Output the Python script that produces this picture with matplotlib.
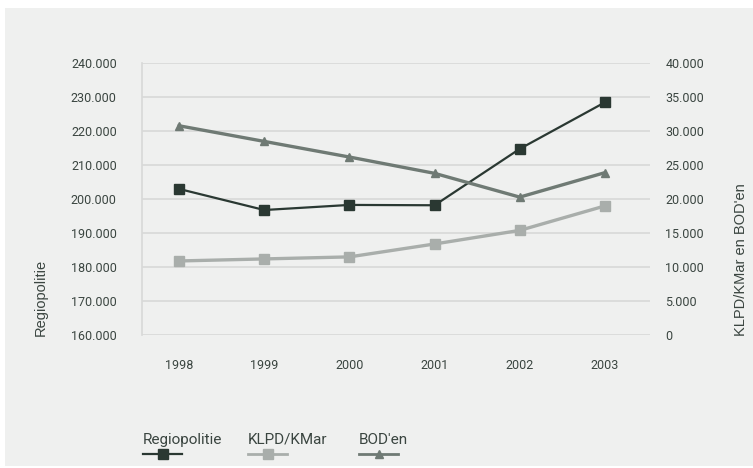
import matplotlib.pyplot as plt
from matplotlib.lines import Line2D
from matplotlib.patches import Rectangle
from matplotlib.ticker import FuncFormatter

years = ['1998', '1999', '2000', '2001', '2002', '2003']
regiopolitie = [203000, 196800, 198300, 198200, 214800, 228500]
klpd_kmar = [10900, 11200, 11500, 13400, 15400, 19000]
boden = [30800, 28500, 26200, 23800, 20300, 23900]

bg = '#eff0ef'
txt = '#3a4540'
c_regio = '#2a3832'
c_klpd = '#a9aeab'
c_bod = '#6f7a74'
grid_c = '#d8d9d8'

plt.rcParams['font.family'] = ['Roboto', 'DejaVu Sans']

fig = plt.figure(figsize=(7.53, 4.68), dpi=100)
fig.patch.set_facecolor('white')
fig.add_artist(Rectangle((5 / 753, 0.004), 1, 1 - 8 / 468 - 0.004,
                         transform=fig.transFigure, facecolor=bg, edgecolor='none', zorder=-10))

ax = fig.add_axes([141.7 / 753, 1 - 335 / 468, (650 - 141.7) / 753, (335 - 63.3) / 468])
ax.set_facecolor(bg)
ax.patch.set_alpha(0)
ax2 = ax.twinx()

x = list(range(len(years)))

ax.plot(x, regiopolitie, color=c_regio, lw=1.6, marker='s', ms=6.5, zorder=5)
ax2.plot(x, klpd_kmar, color=c_klpd, lw=2.4, marker='s', ms=6.5)
ax2.plot(x, boden, color=c_bod, lw=2.4, marker='^', ms=6)

ax.set_ylim(160000, 240000)
ax2.set_ylim(0, 40000)
ax.set_yticks(range(160000, 240001, 10000))
ax2.set_yticks(range(0, 40001, 5000))
fmt = FuncFormatter(lambda v, p: '0' if v == 0 else f'{int(v):,}'.replace(',', '.'))
ax.yaxis.set_major_formatter(fmt)
ax2.yaxis.set_major_formatter(fmt)

ax.set_xlim(-0.44, 5.53)
ax.set_xticks(x)
ax.set_xticklabels(years)

ax.grid(axis='y', color=grid_c, lw=1.2)
ax.set_axisbelow(True)
for a in (ax, ax2):
    for s in a.spines.values():
        s.set_visible(False)
    a.tick_params(length=0, labelsize=9, colors=txt)
ax.spines['left'].set_visible(True)
ax.spines['left'].set_color(grid_c)
ax.spines['left'].set_linewidth(1.2)
ax.tick_params(axis='y', pad=18)
ax2.tick_params(axis='y', pad=11)
ax.tick_params(axis='x', pad=17)

ax.set_ylabel('Regiopolitie', color=txt, fontsize=10.5, family=['Liberation Sans', 'DejaVu Sans'],
              loc='bottom')
ax.yaxis.set_label_coords(-0.184, -0.005)
ax2.set_ylabel("KLPD/KMar en BOD'en", color=txt, fontsize=10.5, family=['Liberation Sans', 'DejaVu Sans'],
               loc='bottom', rotation=90)
ax2.yaxis.set_label_coords(1.166, -0.005)

# legend: text above short line sample
legend_items = [('Regiopolitie', c_regio, 's', 1.6, 143),
                ('KLPD/KMar', c_klpd, 's', 2.0, 248),
                ("BOD'en", c_bod, '^', 2.0, 359)]
for label, col, mk, lw, xp in legend_items:
    fig.text(xp / 753, 1 - 440 / 468, label, color=txt, fontsize=11, va='center', ha='left')
    fig.add_artist(Line2D([xp / 753, (xp + 39) / 753], [1 - 454 / 468] * 2, transform=fig.transFigure,
                          color=col, lw=lw))
    fig.add_artist(Line2D([(xp + 19.5) / 753], [1 - 454 / 468], transform=fig.transFigure,
                          color=col, marker=mk, ms=7 if mk == 's' else 5.5, lw=0))

fig.savefig('out.png', dpi=100)
